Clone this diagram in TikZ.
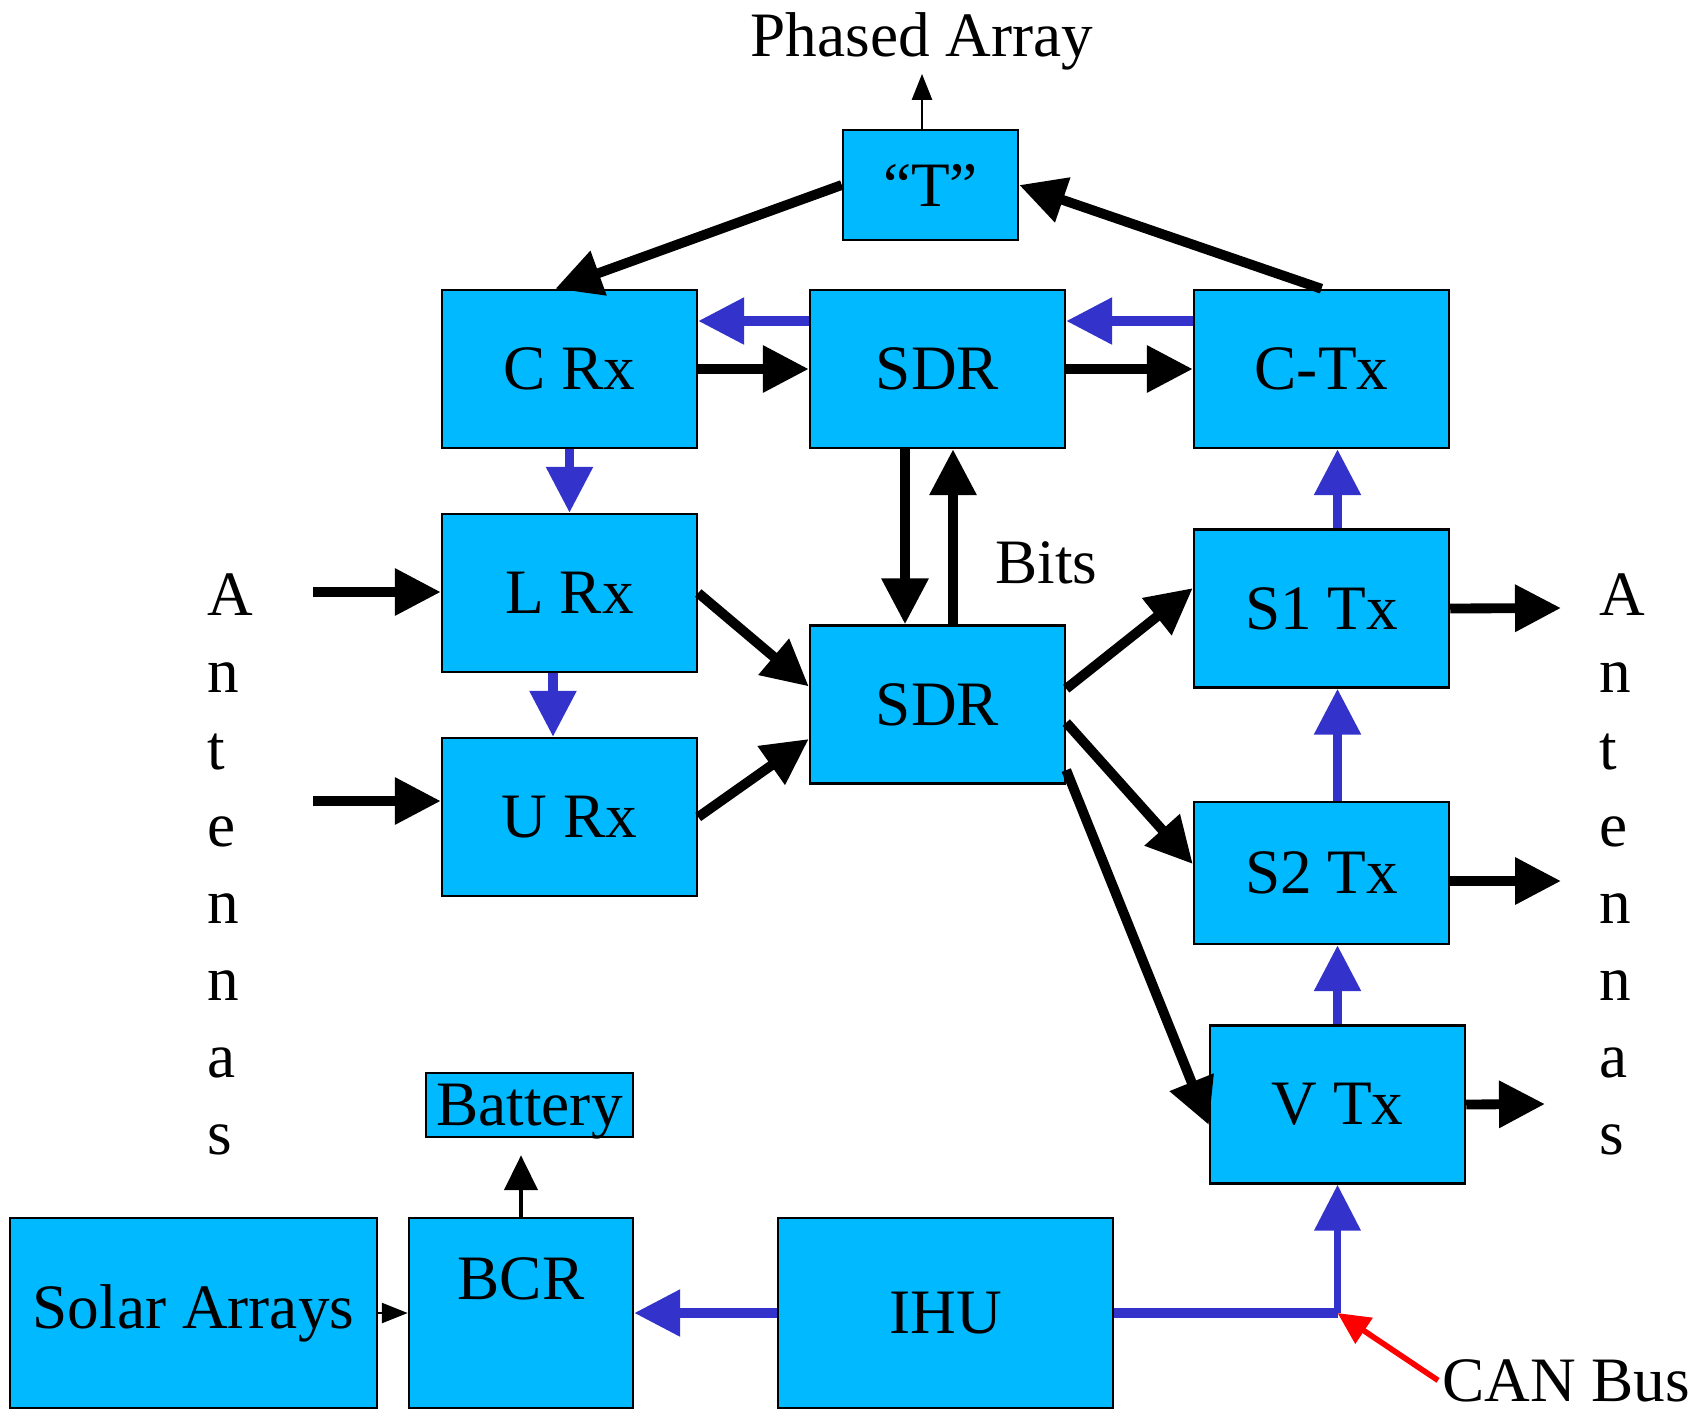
\documentclass[tikz,border=0pt]{standalone}
\usepackage{fontspec}
\setmainfont{Liberation Serif}
\usetikzlibrary{arrows.meta}
\definecolor{boxcyan}{RGB}{0,185,255}
\definecolor{busblue}{RGB}{51,51,204}
\tikzset{
  blk/.style={draw, line width=0.7pt, fill=boxcyan, inner sep=1pt,
    minimum width=2.55cm, minimum height=1.58cm},
  sig/.style={line width=2.8pt, -{Triangle[length=4.6mm,width=4.5mm]}},
  bus/.style={busblue, line width=2.6pt, -{Triangle[length=4.6mm,width=4.5mm]}},
  hair/.style={line width=0.7pt, -{Triangle[length=2.6mm,width=2mm]}},
}
\begin{document}
\begin{tikzpicture}[font=\fontsize{18}{22}\selectfont]
\useasboundingbox (0,0) rectangle (16.94,-14.11);

% nodes
\node[blk, minimum width=1.75cm, minimum height=1.10cm] (T) at (9.305,-1.85) {``T''};
\node[blk] (CRx) at (5.695,-3.69) {C Rx};
\node[blk] (SDRa) at (9.375,-3.69) {SDR};
\node[blk] (CTx) at (13.215,-3.69) {C-Tx};
\node[blk] (LRx) at (5.695,-5.93) {L Rx};
\node[blk] (URx) at (5.695,-8.17) {U Rx};
\node[blk] (SDRb) at (9.375,-7.045) {SDR};
\node[blk] (S1) at (13.215,-6.085) {S1 Tx};
\node[blk, minimum height=1.42cm] (S2) at (13.215,-8.73) {S2 Tx};
\node[blk] (VTx) at (13.375,-11.045) {V Tx};
\node[blk, minimum width=2.07cm, minimum height=0.64cm, inner sep=0pt, text depth=0pt] (Bat) at (5.295,-11.05) {Battery};
\node[blk, minimum width=3.67cm, minimum height=1.90cm] (Solar) at (1.935,-13.13) {Solar Arrays};
\node[blk, minimum width=2.24cm, minimum height=1.90cm, text height=0.45cm, text depth=0.73cm] (BCR) at (5.21,-13.13) {BCR};
\node[blk, minimum width=3.35cm, minimum height=1.90cm] (IHU) at (9.455,-13.13) {IHU};

% labels
\node[anchor=base, inner sep=1pt] (PA) at (9.22,-0.56) {Phased Array};
\node[anchor=base west, inner sep=1pt] (bits) at (9.91,-5.83) {Bits};
\node[anchor=base west, inner sep=1pt] (CAN) at (14.38,-14.01) {CAN Bus};
\node[anchor=north west, align=left, inner sep=0pt, font=\fontsize{18}{21.9}\selectfont] (antL) at (2.07,-5.73) {A\\n\\t\\e\\n\\n\\a\\s};
\node[anchor=north west, align=left, inner sep=0pt, font=\fontsize{18}{21.9}\selectfont] (antR) at (15.99,-5.73) {A\\n\\t\\e\\n\\n\\a\\s};

\coordinate (inL) at (3.13,-5.92);
\coordinate (inU) at (3.13,-8.01);
\coordinate (outS1) at (15.61,-6.08);
\coordinate (outS2) at (15.61,-8.81);
\coordinate (outV) at (15.45,-11.04);
\coordinate (jn) at (VTx.south |- IHU.east);

% signal paths
\path [sig]
    (T.west) edge (CRx.100) (CTx.north) edge (T.east)
    (CRx.east) edge (SDRa.west) (SDRa.east) edge (CTx.west)
    ([xshift=-3.25mm]SDRa.south) edge ([xshift=-3.25mm]SDRb.north)
    ([xshift=1.55mm]SDRb.north) edge ([xshift=1.55mm]SDRa.south)
    (inL) edge (inL -| LRx.west)
    (inU) edge (inU -| URx.west)
    (LRx.east) edge (SDRb.172)
    (URx.east) edge (SDRb.195)
    (SDRb.7) edge (S1.171)
    (SDRb.-8) edge (S2.176)
    (SDRb.-27) edge (VTx.189)
    (S1.east) edge (outS1)
    (S2.east |- outS2) edge (outS2)
    (VTx.east) edge (outV)
    ;

% control bus
\path [bus]
    ([yshift=4.8mm]SDRa.west) edge ([yshift=4.8mm]CRx.east)
    ([yshift=4.8mm]CTx.west) edge ([yshift=4.8mm]SDRa.east)
    (CRx.south) edge (LRx.north)
    ([xshift=-1.65mm]LRx.south) edge ([xshift=-1.65mm]URx.north)
    (S1.north -| VTx) edge (CTx.south -| VTx)
    (S2.north -| VTx) edge (S1.south -| VTx)
    (VTx.north) edge (S2.south -| VTx)
    (IHU.west) edge (BCR.east)
    ;
\draw [busblue, line width=2.8pt] (IHU.east) -- (jn);
\draw [bus, line width=2.2pt] (jn) -- (VTx.south);
\draw [red, line width=1.6pt, -{Triangle[length=3.2mm,width=3mm]}] (CAN.west) -- (jn);

% power
\draw [hair] (T.north -| PA) -- (PA.south);
\draw [hair] (Solar.east) -- (BCR.west);
\draw [line width=1.3pt, -{Triangle[length=3.5mm,width=3.3mm]}, shorten >=1.7mm] (BCR.north) -- (BCR.north |- Bat.south);
\end{tikzpicture}
\end{document}
